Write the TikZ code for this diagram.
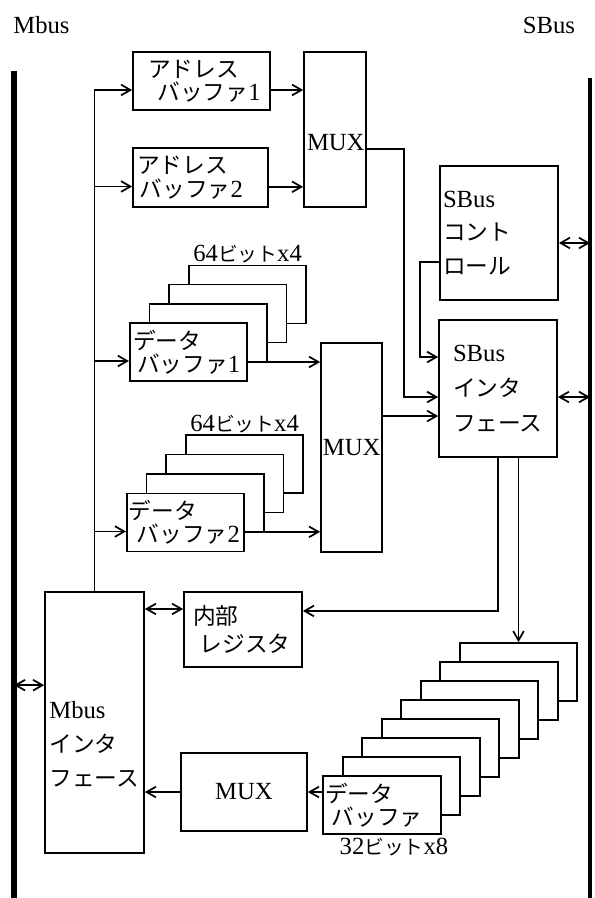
\documentclass[tikz,border=0pt]{standalone}
\usepackage{fontspec}
\setmainfont{Liberation Serif}
\newfontfamily\jpfont[Scale=0.92]{Noto Sans CJK JP}
\newfontfamily\jpsmall[Scale=0.8]{Noto Sans CJK JP}
\usetikzlibrary{arrows.meta}

\begin{document}
\begin{tikzpicture}[x=0.75pt, y=-0.75pt,
    font=\fontsize{18.5pt}{22pt}\selectfont,
    box/.style={draw, line width=1.3pt, fill=white, inner sep=0pt, align=left},
    bufbox/.style={box, minimum width=88pt, minimum height=43.5pt},
    lines/.style={font=\fontsize{18.5pt}{#1}\selectfont},
    arr/.style={->, line width=1.3pt},
    arr2/.style={<->, line width=1.3pt},
    >={Straight Barb[length=7pt,width=8pt]}
]
\useasboundingbox (0,0) rectangle (594,898);

% buses
\coordinate (mbustop) at (14,71);
\coordinate (mbusbot) at (14,898);
\coordinate (sbustop) at (590,78);
\coordinate (sbusbot) at (590,898);
\draw[line width=4.5pt] (mbustop) -- (mbusbot);
\draw[line width=3pt] (sbustop) -- (sbusbot);
\node (mbuslbl) at (41.5,25) {Mbus};
\node (sbuslbl) at (549,25) {SBus};

% address side
\node[box, minimum width=102.75pt, minimum height=43.5pt, text width=80pt, lines=17.5pt] (adr1) at (201.5,81) {{\jpfont アドレス}\\\hspace*{7pt}{\jpfont バッファ}1};
\node[box, minimum width=101.25pt, minimum height=44.25pt, text width=95pt, lines=17.5pt] (adr2) at (200.5,177.5) {{\jpfont アドレス}\\\hspace*{2pt}{\jpfont バッファ}2};
\node[box, minimum width=46.5pt, minimum height=116.25pt, text width=42pt, text height=31pt] (mux1) at (335,129.5) {MUX};

% SBus side
\node[box, minimum width=88.5pt, minimum height=100.5pt, text width=84pt, lines=25pt] (sbctl) at (499,233) {SBus\\{\jpfont コント}\\{\jpfont ロール}};
\node[box, minimum width=88.5pt, minimum height=102.75pt, text width=67.5pt, lines=26.5pt] (sbif) at (498,388.5) {SBus\\{\jpfont インタ}\\{\jpfont フェース}};

% data buffers 1
\foreach \i in {3,2,1}
    \node[bufbox] (datA\i) at ({188.5+19.7*\i},{352-19.2*\i}) {};
\node[bufbox, text width=83pt, lines=17.5pt] (datA0) at (188.5,352) {{\jpfont データ}\\\hspace*{3pt}{\jpfont バッファ}1};
\node[anchor=south, inner sep=1pt] (datAlbl) at (datA3.north) {64{\jpsmall ビット}x4};

% data buffers 2
\foreach \i in {3,2,1}
    \node[bufbox] (datB\i) at ({185.5+19.7*\i},{522.5-19.5*\i}) {};
\node[bufbox, text width=85pt, lines=17.5pt] (datB0) at (185.5,522.5) {{\jpfont データ}\\\hspace*{6pt}{\jpfont バッファ}2};
\node[anchor=south, inner sep=1pt] (datBlbl) at (datB3.north) {64{\jpsmall ビット}x4};

\node[box, minimum width=45.75pt, minimum height=156.75pt, text width=43pt] (mux2) at (351.5,447.5) {MUX};

% Mbus interface and register
\node[box, minimum width=74.25pt, minimum height=195.75pt] (mbif) at (94.5,722.5) {};
\node[anchor=west, align=left, lines=25.5pt, inner sep=0pt] (mbiftext) at ([xshift=3.75pt,yshift=-16pt]mbif.west) {Mbus\\{\jpfont インタ}\\{\jpfont フェース}};
\node[box, minimum width=88.5pt, minimum height=56.25pt, text width=75pt, lines=21pt] (reg) at (243,629.5) {{\jpfont 内部}\\\hspace*{5pt}{\jpfont レジスタ}};
\node[box, minimum width=94.5pt, minimum height=58.5pt, align=center] (mux3) at (244,792) {MUX};

% data buffers 32 bit x8
\foreach \i in {7,6,...,1}
    \node[bufbox] (datC\i) at ({382+19.5*\i},{805-19*\i}) {};
\node[bufbox, text width=85.5pt, lines=17.5pt] (datC0) at (382,805) {{\jpfont データ}\\\hspace*{5pt}{\jpfont バッファ}};
\node[anchor=north, inner sep=2pt] (datClbl) at ([xshift=9pt]datC0.south) {32{\jpsmall ビット}x8};

% Mbus interface to buffers
\draw[arr] (mbif.north) |- ([yshift=-6.75pt]adr1.west);
\draw[arr] (mbif.north) |- ([yshift=-6.75pt]adr2.west);
\draw[arr] (mbif.north) |- ([yshift=-6.75pt]datA0.west);
\draw[arr] (mbif.north) |- ([yshift=-6.75pt]datB0.west);

% into the MUXes
\draw[arr] ([yshift=-6.75pt]adr1.east) -- ([yshift=-6.75pt]adr1.east -| mux1.west);
\draw[arr] ([yshift=-7pt]adr2.east) -- ([yshift=-7pt]adr2.east -| mux1.west);
\draw[arr] ([yshift=-7.5pt]datA0.east) -- ([yshift=-7.5pt]datA0.east -| mux2.west);
\draw[arr] ([yshift=-7pt]datB0.east) -- ([yshift=-7pt]datB0.east -| mux2.west);

% into the SBus interface
\draw[arr] ([yshift=-14.6pt]mux1.east) -- ++(37,0) |- ([yshift=-6.4pt]sbif.west);
\draw[arr] ([yshift=-21.75pt]sbctl.west) -- ++(-19,0) |- ([yshift=23.6pt]sbif.west);
\draw[arr] ([yshift=23.6pt]mux2.east) -- ([yshift=23.6pt]mux2.east -| sbif.west);
\draw[arr2] ([yshift=-7.5pt]sbctl.east) -- ([yshift=-7.5pt]sbctl.east -| sbustop);
\draw[arr2] ([yshift=-6.4pt]sbif.east) -- ([yshift=-6.4pt]sbif.east -| sbustop);

% out of the SBus interface
\draw[arr] (sbif.south) |- ([yshift=13.9pt]reg.east);
\draw[arr] (datC7.north |- sbif.south) -- (datC7.north);

% back to the Mbus
\draw[arr2] ([yshift=15.4pt]reg.west) -- ([yshift=15.4pt]reg.west -| mbif.east);
\draw[arr2] ([yshift=28pt]mbif.west) -- ([yshift=28pt]mbif.west -| mbustop);
\draw[arr] (mux3.west) -- (mux3.west -| mbif.east);
\draw[arr] (datC0.west |- mux3.east) -- (mux3.east);
\end{tikzpicture}
\end{document}
